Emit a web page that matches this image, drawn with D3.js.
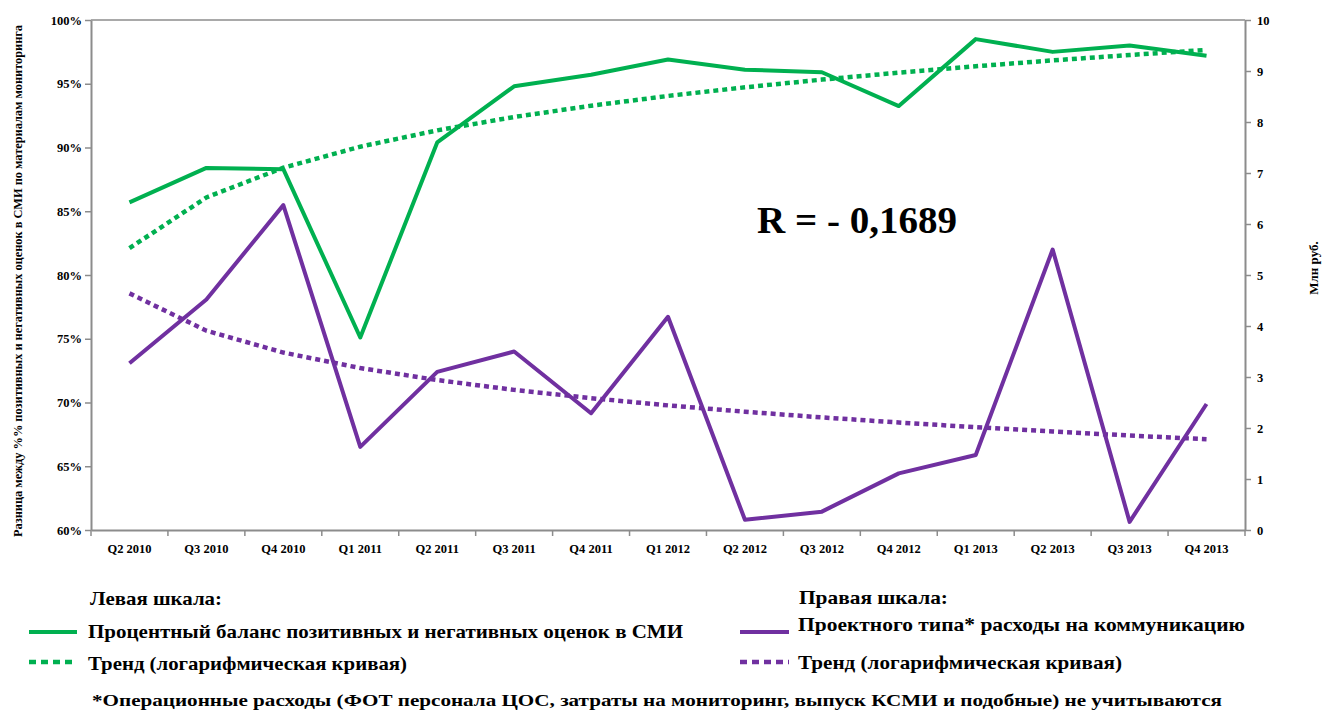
<!DOCTYPE html>
<html lang="ru">
<head>
<meta charset="utf-8">
<script src="https://cdn.jsdelivr.net/npm/d3@7"></script>
<style>
  html, body { margin: 0; padding: 0; background: #fff; }
  svg { display: block; font-family: "Liberation Serif", "DejaVu Serif", serif; font-weight: bold; }
  svg text { font-family: "Liberation Serif", "DejaVu Serif", serif; font-weight: bold; fill: #000; }
</style>
</head>
<body>
<svg id="chart" width="1325" height="711"></svg>
<script>
// Quarters on the x axis
const categories = ["Q2 2010","Q3 2010","Q4 2010","Q1 2011","Q2 2011","Q3 2011","Q4 2011","Q1 2012",
                    "Q2 2012","Q3 2012","Q4 2012","Q1 2013","Q2 2013","Q3 2013","Q4 2013"];

// Left scale: balance of positive and negative media mentions, %
const balanceValues = [85.7, 88.4, 88.3, 75.1, 90.4, 94.8, 95.7, 96.9, 96.1, 95.9, 93.25, 98.5, 97.5, 98.0, 97.2];

// Right scale: project-type communication spending, mln roubles
const spendValues = [3.27, 4.52, 6.37, 1.63, 3.1, 3.5, 2.29, 4.18, 0.2, 0.36, 1.11, 1.47, 5.5, 0.16, 2.47];

const leftTicks = [60, 65, 70, 75, 80, 85, 90, 95, 100];
const rightTicks = [0, 1, 2, 3, 4, 5, 6, 7, 8, 9, 10];

const correlationLabel = "R = - 0,1689";

const GREEN = "#00B050";
const PURPLE = "#7030A0";
const AXIS = "#8c8c8c";

const svg = d3.select("#chart");

const plot = { left: 91, right: 1245, top: 20, bottom: 530 };

const x = d3.scaleBand().domain(categories).range([plot.left, plot.right]);
const xc = c => x(c) + x.bandwidth() / 2;
const yL = d3.scaleLinear().domain([60, 100]).range([plot.bottom, plot.top]);
const yR = d3.scaleLinear().domain([0, 10]).range([plot.bottom, plot.top]);

// Logarithmic trend y = a + b ln(n), least squares over n = 1..N
function logTrend(values) {
  const lx = values.map((_, i) => Math.log(i + 1));
  const mx = d3.mean(lx), my = d3.mean(values);
  let sxy = 0, sxx = 0;
  values.forEach((v, i) => { sxy += (lx[i] - mx) * (v - my); sxx += (lx[i] - mx) ** 2; });
  const b = sxy / sxx, a = my - b * mx;
  return values.map((_, i) => a + b * Math.log(i + 1));
}

// Frame: top border line
svg.append("line")
  .attr("x1", plot.left).attr("x2", plot.right)
  .attr("y1", plot.top).attr("y2", plot.top)
  .attr("stroke", AXIS).attr("stroke-width", 1.5);

// Left axis
const gL = svg.append("g").attr("transform", `translate(${plot.left},0)`)
  .call(d3.axisLeft(yL).tickValues(leftTicks).tickFormat(d => d + "%").tickSize(6).tickSizeOuter(0));
// Right axis
const gR = svg.append("g").attr("transform", `translate(${plot.right},0)`)
  .call(d3.axisRight(yR).tickValues(rightTicks).tickFormat(d => d).tickSize(6).tickSizeOuter(0));
// Bottom axis: labels centred on each quarter
const gB = svg.append("g").attr("transform", `translate(0,${plot.bottom})`)
  .call(d3.axisBottom(x).tickSize(0).tickPadding(14));
// Bottom axis tick marks on band boundaries
svg.append("g").selectAll("line")
  .data(categories.map(c => x(c)).concat([plot.right]))
  .join("line")
  .attr("x1", d => d).attr("x2", d => d)
  .attr("y1", plot.bottom).attr("y2", plot.bottom + 6)
  .attr("stroke", AXIS).attr("stroke-width", 1.5);

[gL, gR, gB].forEach(g => {
  g.attr("font-family", null).attr("font-size", null);
  g.select(".domain").attr("stroke", AXIS).attr("stroke-width", 2);
  g.selectAll(".tick line").attr("stroke", AXIS).attr("stroke-width", 1.5);
  g.selectAll(".tick text").attr("fill", "#000").style("font-size", "12.5px");
});
gL.selectAll(".tick text").attr("x", -9);
gR.selectAll(".tick text").attr("x", 12);

// Axis titles
svg.append("text")
  .attr("transform", "translate(22,281) rotate(-90)")
  .attr("text-anchor", "middle")
  .attr("font-size", 12)
  .attr("textLength", 512).attr("lengthAdjust", "spacingAndGlyphs")
  .text("Разница между %% позитивных и негативных оценок в СМИ по материалам мониторинга");
svg.append("text")
  .attr("transform", "translate(1318,268) rotate(-90)")
  .attr("text-anchor", "middle")
  .attr("font-size", 13)
  .text("Млн руб.");

// Series
const lineL = d3.line().x((d, i) => xc(categories[i])).y(d => yL(d));
const lineR = d3.line().x((d, i) => xc(categories[i])).y(d => yR(d));

svg.append("path").datum(logTrend(balanceValues)).attr("d", lineL)
  .attr("fill", "none").attr("stroke", GREEN).attr("stroke-width", 4.5).attr("stroke-dasharray", "5,4");
svg.append("path").datum(logTrend(spendValues)).attr("d", lineR)
  .attr("fill", "none").attr("stroke", PURPLE).attr("stroke-width", 4.5).attr("stroke-dasharray", "5,4");
svg.append("path").datum(balanceValues).attr("d", lineL)
  .attr("fill", "none").attr("stroke", GREEN).attr("stroke-width", 4).attr("stroke-linejoin", "round");
svg.append("path").datum(spendValues).attr("d", lineR)
  .attr("fill", "none").attr("stroke", PURPLE).attr("stroke-width", 4).attr("stroke-linejoin", "round");

// Correlation note
svg.append("text")
  .attr("x", 757).attr("y", 233)
  .attr("font-size", 38)
  .attr("textLength", 200).attr("lengthAdjust", "spacingAndGlyphs")
  .text(correlationLabel);

// Legend
const legend = svg.append("g");
function legendHeader(xp, yp, w, label) {
  legend.append("text").attr("x", xp).attr("y", yp).attr("font-size", 19)
    .attr("textLength", w).attr("lengthAdjust", "spacingAndGlyphs").text(label);
}
function legendItem(x0, x1, ly, color, dashed, tx, ty, tw, label) {
  legend.append("line").attr("x1", x0).attr("x2", x1).attr("y1", ly).attr("y2", ly)
    .attr("stroke", color).attr("stroke-width", dashed ? 4.5 : 4)
    .attr("stroke-dasharray", dashed ? "7,5" : null);
  legend.append("text").attr("x", tx).attr("y", ty).attr("font-size", 19)
    .attr("textLength", tw).attr("lengthAdjust", "spacingAndGlyphs").text(label);
}
legendHeader(90, 605, 132, "Левая шкала:");
legendItem(29, 77, 632, GREEN, false, 88, 638, 595, "Процентный баланс позитивных и негативных оценок в СМИ");
legendItem(29, 77, 662, GREEN, true, 88, 670, 319, "Тренд (логарифмическая кривая)");
legendHeader(799, 604, 149, "Правая шкала:");
legendItem(740, 789, 632, PURPLE, false, 798, 631, 447, "Проектного типа* расходы на коммуникацию");
legendItem(740, 789, 662, PURPLE, true, 798, 669, 324, "Тренд (логарифмическая кривая)");

svg.append("text").attr("x", 92).attr("y", 706).attr("font-size", 17)
  .attr("textLength", 1130).attr("lengthAdjust", "spacingAndGlyphs")
  .text("*Операционные расходы (ФОТ персонала ЦОС, затраты на мониторинг, выпуск КСМИ и подобные) не учитываются");
</script>
</body>
</html>
